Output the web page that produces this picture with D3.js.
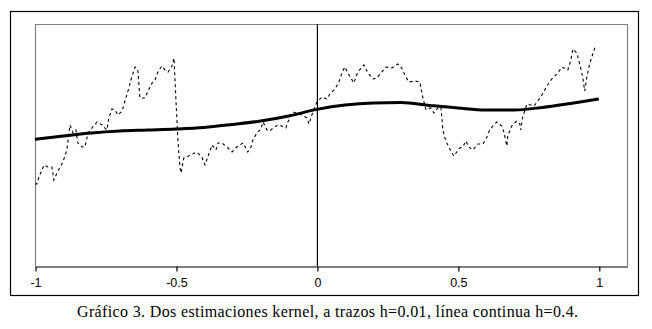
<!DOCTYPE html>
<html>
<head>
<meta charset="utf-8">
<script src="https://cdn.jsdelivr.net/npm/d3@7"></script>
<style>
  html, body { margin: 0; padding: 0; background: #fff; }
  svg { display: block; }
</style>
</head>
<body>
<svg id="chart" width="652" height="329"></svg>
<script>
// Kernel estimate with a small bandwidth (h = 0.01), drawn dashed
const roughX = [-1.000,-0.993,-0.986,-0.968,-0.954,-0.940,-0.933,-0.922,-0.901,-0.887,
  -0.876,-0.865,-0.855,-0.848,-0.833,-0.823,-0.812,-0.798,-0.780,-0.762,
  -0.745,-0.738,-0.727,-0.716,-0.706,-0.691,-0.681,-0.667,-0.660,-0.645,
  -0.635,-0.628,-0.610,-0.599,-0.585,-0.574,-0.564,-0.550,-0.539,-0.528,
  -0.514,-0.507,-0.500,-0.493,-0.486,-0.482,-0.472,-0.461,-0.450,-0.426,
  -0.408,-0.397,-0.387,-0.372,-0.358,-0.351,-0.337,-0.319,-0.301,-0.284,
  -0.262,-0.245,-0.234,-0.227,-0.213,-0.199,-0.191,-0.177,-0.167,-0.156,
  -0.138,-0.124,-0.110,-0.103,-0.085,-0.060,-0.035,-0.028,-0.018,0.000,
  0.018,0.035,0.046,0.064,0.078,0.089,0.099,0.110,0.131,0.145,
  0.167,0.181,0.199,0.213,0.227,0.245,0.266,0.287,0.301,0.312,
  0.326,0.348,0.365,0.376,0.387,0.404,0.415,0.429,0.440,0.447,
  0.454,0.461,0.475,0.486,0.496,0.507,0.518,0.528,0.539,0.553,
  0.571,0.589,0.603,0.613,0.624,0.638,0.656,0.663,0.674,0.677,
  0.691,0.709,0.720,0.723,0.730,0.745,0.770,0.784,0.798,0.816,
  0.833,0.855,0.869,0.890,0.901,0.908,0.922,0.933,0.943,0.950,
  0.957,0.965,0.975,0.986,0.993];
const roughY = [0.410,0.410,0.445,0.505,0.495,0.495,0.430,0.465,0.520,0.580,
  0.705,0.665,0.680,0.615,0.595,0.595,0.665,0.690,0.720,0.705,
  0.680,0.740,0.785,0.780,0.755,0.775,0.825,0.890,0.930,0.995,
  0.975,0.840,0.840,0.875,0.915,0.930,0.970,1.000,0.980,0.970,
  1.000,1.040,0.830,0.630,0.495,0.465,0.540,0.545,0.555,0.570,
  0.545,0.505,0.545,0.605,0.580,0.615,0.615,0.595,0.570,0.595,
  0.615,0.570,0.595,0.630,0.665,0.685,0.720,0.680,0.675,0.690,
  0.705,0.700,0.690,0.720,0.770,0.760,0.740,0.710,0.755,0.820,
  0.845,0.835,0.860,0.885,0.920,0.965,0.995,0.965,0.915,0.970,
  1.005,0.965,0.935,0.940,0.965,0.995,0.990,1.010,0.990,0.955,
  0.920,0.925,0.920,0.840,0.780,0.790,0.765,0.790,0.795,0.680,
  0.640,0.615,0.575,0.550,0.570,0.590,0.595,0.625,0.595,0.580,
  0.610,0.610,0.645,0.680,0.700,0.720,0.700,0.670,0.600,0.650,
  0.700,0.725,0.710,0.680,0.745,0.810,0.800,0.825,0.855,0.900,
  0.935,0.965,0.995,0.980,1.030,1.085,1.065,1.005,0.945,0.875,
  0.940,0.995,1.045,1.090,1.100];

// Kernel estimate with a large bandwidth (h = 0.4), drawn solid
const smoothX = [-1.0,-0.9,-0.8,-0.7,-0.6,-0.5,-0.4,-0.3,-0.2,-0.1,0.0,
  0.1,0.2,0.3,0.4,0.5,0.6,0.7,0.8,0.9,1.0];
const smoothY = [0.634,0.650,0.665,0.675,0.680,0.685,0.693,0.708,0.725,0.750,0.783,
  0.805,0.815,0.817,0.803,0.790,0.780,0.780,0.793,0.813,0.835];

// Axis ticks
const tickValues = [-1, -0.5, 0, 0.5, 1];
const tickLabels = ["-1", "-0.5", "0", "0.5", "1"];

const caption = "Gráfico 3. Dos estimaciones kernel, a trazos h=0.01, línea continua h=0.4.";

const svg = d3.select("#chart");

const x = d3.scaleLinear().domain([-1, 1.1]).range([35, 627]);
const y = d3.scaleLinear().domain([0, 1.21]).range([266, 24]);

// Outer frame
svg.append("rect")
  .attr("x", 10.5).attr("y", 11.5)
  .attr("width", 628).attr("height", 284)
  .attr("fill", "none").attr("stroke", "#000").attr("stroke-width", 1.2);

// Plot area border (top, left, right)
const [x0, x1] = x.range();
const [yb, yt] = y.range();
svg.append("path")
  .attr("d", `M${x0 + 0.5},${yb} V${yt + 0.5} H${x1 + 0.5} V${yb}`)
  .attr("fill", "none").attr("stroke", "#808080").attr("stroke-width", 1.2);

// Vertical reference line at zero
svg.append("line")
  .attr("x1", x(0) + 0.5).attr("x2", x(0) + 0.5)
  .attr("y1", yt).attr("y2", yb)
  .attr("stroke", "#000").attr("stroke-width", 1.2);

// X axis
const axis = d3.axisBottom(x)
  .tickValues(tickValues)
  .tickFormat((d, i) => tickLabels[i])
  .tickSizeOuter(0)
  .tickSizeInner(5)
  .tickPadding(7);

const gAxis = svg.append("g")
  .attr("transform", `translate(0.5,${yb + 0.5})`)
  .call(axis);
gAxis.select(".domain").attr("stroke", "#000").attr("stroke-width", 1.2);
gAxis.selectAll(".tick line").attr("stroke", "#000").attr("stroke-width", 1.2);
gAxis.selectAll(".tick text")
  .attr("fill", "#000")
  .style("font-family", "'Liberation Sans', Arial, sans-serif")
  .style("font-size", "12.5px");

// Curves
const rough = roughX.map((v, i) => [v, roughY[i]]);
const smooth = smoothX.map((v, i) => [v, smoothY[i]]);

svg.append("path")
  .datum(rough)
  .attr("d", d3.line().x(d => x(d[0])).y(d => y(d[1])).curve(d3.curveLinear))
  .attr("fill", "none")
  .attr("stroke", "#000")
  .attr("stroke-width", 1.1)
  .attr("stroke-dasharray", "3,3");

svg.append("path")
  .datum(smooth)
  .attr("d", d3.line().x(d => x(d[0])).y(d => y(d[1])).curve(d3.curveMonotoneX))
  .attr("fill", "none")
  .attr("stroke", "#000")
  .attr("stroke-width", 3);

// Caption
svg.append("text")
  .attr("x", 327.5).attr("y", 317)
  .attr("text-anchor", "middle")
  .attr("textLength", 501)
  .attr("lengthAdjust", "spacing")
  .style("font-family", "'Liberation Serif', 'Times New Roman', serif")
  .style("font-size", "16px")
  .attr("fill", "#000")
  .text(caption);
</script>
</body>
</html>
